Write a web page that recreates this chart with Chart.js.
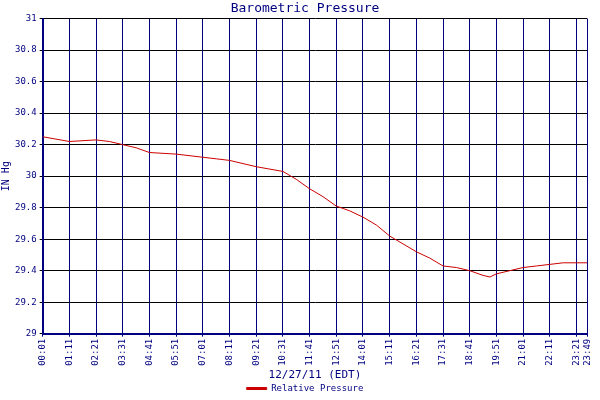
<!DOCTYPE html><html><head><script src="https://cdn.jsdelivr.net/npm/chart.js@4"></script>
<style>html,body{margin:0;background:#fff}#w{width:600px;height:400px}</style></head><body><div id="w"><canvas id="c"></canvas></div><script>
const minutes=[1,71,141,176,211,246,281,351,421,456,491,561,631,666,701,736,771,806,841,876,911,946,981,1016,1051,1086,1121,1156,1174,1191,1226,1261,1296,1331,1366,1401,1429];
const pressure=[30.25,30.22,30.23,30.22,30.20,30.18,30.15,30.14,30.12,30.11,30.10,30.06,30.03,29.98,29.92,29.87,29.81,29.78,29.74,29.69,29.62,29.57,29.52,29.48,29.43,29.42,29.40,29.37,29.36,29.38,29.40,29.42,29.43,29.44,29.45,29.45,29.45];
const tickMinutes=[1,71,141,211,281,351,421,491,561,631,701,771,841,911,981,1051,1121,1191,1261,1331,1401,1429];
const fmt=m=>{const h=Math.floor(m/60),mm=m%60;return String(h).padStart(2,'0')+':'+String(mm).padStart(2,'0');};
const F={family:'DejaVu Sans Mono',size:9};
new Chart(document.getElementById('c'),{type:'line',
data:{datasets:[{label:'Relative Pressure',data:minutes.map((m,i)=>({x:m,y:pressure[i]})),borderColor:'#cc0000',backgroundColor:'#cc0000',borderWidth:1,pointRadius:0,tension:0}]},
options:{responsive:true,maintainAspectRatio:false,animation:false,
layout:{padding:{right:-10,top:1,bottom:-3}},
plugins:{title:{display:true,text:'Barometric Pressure',color:'#000080',font:{family:'DejaVu Sans Mono',size:13,weight:'normal'},padding:{top:0,bottom:2}},
legend:{position:'bottom',labels:{color:'#000080',font:{family:'DejaVu Sans Mono',size:9},boxWidth:20,boxHeight:2,padding:2}}},
scales:{x:{type:'linear',min:1,max:1429,afterBuildTicks:s=>{s.ticks=tickMinutes.map(v=>({value:v}));},
ticks:{autoSkip:false,maxRotation:90,minRotation:90,color:'#000080',font:F,padding:2,callback:v=>fmt(v)},
grid:{color:'#000080',drawTicks:true,tickLength:3},border:{color:'#000080',width:2},
title:{display:true,text:'12/27/11 (EDT)',color:'#000080',font:{family:'DejaVu Sans Mono',size:11},padding:{top:1,bottom:0}}},
y:{min:29,max:31,ticks:{stepSize:0.2,color:'#000080',font:F,callback:v=>Math.round(v*10)/10},
grid:{color:'#000000',tickLength:3},border:{color:'#000080',width:2},
title:{display:true,text:'IN Hg',color:'#000080',font:{family:'DejaVu Sans Mono',size:10},padding:0}}}}});
</script></body></html>
